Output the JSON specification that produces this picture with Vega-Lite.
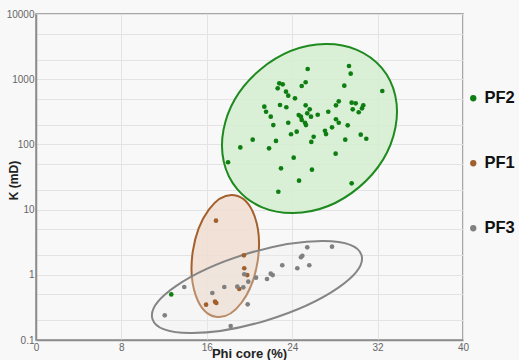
{
  "$schema": "https://vega.github.io/schema/vega-lite/v6.json",
  "width": 427,
  "height": 326,
  "autosize": "none",
  "padding": {"left": 36, "top": 14, "right": 56, "bottom": 20},
  "background": "#f8f8f8",
  "config": {
    "font": "Liberation Sans",
    "view": {"stroke": "#8c8c8c", "strokeWidth": 1.5, "fill": "#f8f8f8"}
  },
  "datasets": {
    "ell": [
      {"g": "PF2", "phi": 25.62, "k": 175},
      {"g": "PF1", "phi": 17.73, "k": 1.94},
      {"g": "PF3", "phi": 20.70, "k": 0.65}
    ],
    "pts": [
      {"g": "PF2", "phi": 25.45, "k": 1433},
      {"g": "PF2", "phi": 29.32, "k": 1594},
      {"g": "PF2", "phi": 29.48, "k": 1215},
      {"g": "PF2", "phi": 22.79, "k": 865},
      {"g": "PF2", "phi": 23.11, "k": 835},
      {"g": "PF2", "phi": 22.64, "k": 725},
      {"g": "PF2", "phi": 25.26, "k": 897},
      {"g": "PF2", "phi": 24.89, "k": 787},
      {"g": "PF2", "phi": 28.88, "k": 795},
      {"g": "PF2", "phi": 23.42, "k": 643},
      {"g": "PF2", "phi": 23.63, "k": 558},
      {"g": "PF2", "phi": 24.26, "k": 509},
      {"g": "PF2", "phi": 21.39, "k": 379},
      {"g": "PF2", "phi": 21.55, "k": 317},
      {"g": "PF2", "phi": 21.99, "k": 266},
      {"g": "PF2", "phi": 22.86, "k": 402},
      {"g": "PF2", "phi": 23.45, "k": 371},
      {"g": "PF2", "phi": 25.26, "k": 398},
      {"g": "PF2", "phi": 25.64, "k": 345},
      {"g": "PF2", "phi": 28.36, "k": 458},
      {"g": "PF2", "phi": 28.10, "k": 398},
      {"g": "PF2", "phi": 29.57, "k": 436},
      {"g": "PF2", "phi": 29.95, "k": 427},
      {"g": "PF2", "phi": 30.66, "k": 398},
      {"g": "PF2", "phi": 30.54, "k": 358},
      {"g": "PF2", "phi": 29.67, "k": 345},
      {"g": "PF2", "phi": 30.23, "k": 311},
      {"g": "PF2", "phi": 27.38, "k": 317},
      {"g": "PF2", "phi": 24.61, "k": 282},
      {"g": "PF2", "phi": 24.82, "k": 266},
      {"g": "PF2", "phi": 25.41, "k": 300},
      {"g": "PF2", "phi": 26.39, "k": 285},
      {"g": "PF2", "phi": 25.76, "k": 266},
      {"g": "PF2", "phi": 24.89, "k": 237},
      {"g": "PF2", "phi": 25.20, "k": 215},
      {"g": "PF2", "phi": 25.29, "k": 198},
      {"g": "PF2", "phi": 22.23, "k": 198},
      {"g": "PF2", "phi": 23.63, "k": 215},
      {"g": "PF2", "phi": 28.10, "k": 243},
      {"g": "PF2", "phi": 28.36, "k": 215},
      {"g": "PF2", "phi": 29.20, "k": 196},
      {"g": "PF2", "phi": 27.73, "k": 183},
      {"g": "PF2", "phi": 27.07, "k": 162},
      {"g": "PF2", "phi": 27.17, "k": 144},
      {"g": "PF2", "phi": 24.42, "k": 157},
      {"g": "PF2", "phi": 23.89, "k": 143},
      {"g": "PF2", "phi": 26.01, "k": 131},
      {"g": "PF2", "phi": 25.79, "k": 109},
      {"g": "PF2", "phi": 28.97, "k": 118},
      {"g": "PF2", "phi": 30.42, "k": 141},
      {"g": "PF2", "phi": 30.94, "k": 122},
      {"g": "PF2", "phi": 20.30, "k": 118},
      {"g": "PF2", "phi": 22.48, "k": 113},
      {"g": "PF2", "phi": 19.14, "k": 90},
      {"g": "PF2", "phi": 21.83, "k": 87},
      {"g": "PF2", "phi": 28.07, "k": 72},
      {"g": "PF2", "phi": 24.14, "k": 62.5},
      {"g": "PF2", "phi": 17.99, "k": 53.2},
      {"g": "PF2", "phi": 22.95, "k": 43},
      {"g": "PF2", "phi": 25.85, "k": 40.9},
      {"g": "PF2", "phi": 24.64, "k": 27.8},
      {"g": "PF2", "phi": 29.57, "k": 25.3},
      {"g": "PF2", "phi": 22.70, "k": 18.8},
      {"g": "PF2", "phi": 32.44, "k": 659},
      {"g": "PF2", "phi": 12.67, "k": 0.50},
      {"g": "PF1", "phi": 16.86, "k": 6.76},
      {"g": "PF1", "phi": 19.48, "k": 1.99},
      {"g": "PF1", "phi": 19.51, "k": 1.26},
      {"g": "PF1", "phi": 19.79, "k": 0.99},
      {"g": "PF1", "phi": 19.04, "k": 0.606},
      {"g": "PF1", "phi": 16.77, "k": 0.387},
      {"g": "PF1", "phi": 16.89, "k": 0.369},
      {"g": "PF1", "phi": 15.93, "k": 0.348},
      {"g": "PF3", "phi": 18.86, "k": 0.657},
      {"g": "PF3", "phi": 19.42, "k": 0.643},
      {"g": "PF3", "phi": 19.51, "k": 1.02},
      {"g": "PF3", "phi": 19.89, "k": 0.784},
      {"g": "PF3", "phi": 20.61, "k": 0.903},
      {"g": "PF3", "phi": 21.64, "k": 0.862},
      {"g": "PF3", "phi": 21.99, "k": 1.04},
      {"g": "PF3", "phi": 22.17, "k": 0.99},
      {"g": "PF3", "phi": 23.07, "k": 1.40},
      {"g": "PF3", "phi": 24.48, "k": 1.26},
      {"g": "PF3", "phi": 25.60, "k": 1.40},
      {"g": "PF3", "phi": 24.82, "k": 1.86},
      {"g": "PF3", "phi": 24.95, "k": 1.96},
      {"g": "PF3", "phi": 25.41, "k": 2.64},
      {"g": "PF3", "phi": 27.73, "k": 2.70},
      {"g": "PF3", "phi": 17.64, "k": 0.650},
      {"g": "PF3", "phi": 16.52, "k": 0.526},
      {"g": "PF3", "phi": 13.89, "k": 0.650},
      {"g": "PF3", "phi": 12.06, "k": 0.239},
      {"g": "PF3", "phi": 18.24, "k": 0.164},
      {"g": "PF3", "phi": 19.83, "k": 0.353}
    ]
  },
  "encoding": {
    "x": {
      "field": "phi", "type": "quantitative",
      "scale": {"domain": [0, 40], "nice": false},
      "axis": {
        "title": "Phi core (%)",
        "values": [0, 8, 16, 24, 32, 40],
        "ticks": false, "labelFlush": false, "labelOverlap": false,
        "domainColor": "#8c8c8c", "domainWidth": 1.5,
        "gridColor": "#e3e3e3",
        "labelColor": "#666666", "labelFontSize": 10, "labelPadding": 2,
        "titleFontSize": 13, "titleFontWeight": "bold", "titleColor": "#222222",
        "titleX": 213, "titleY": 13, "titleAlign": "center", "titleBaseline": "middle"
      }
    },
    "y": {
      "field": "k", "type": "quantitative",
      "scale": {"type": "log", "domain": [0.1, 10000], "nice": false},
      "axis": {
        "title": "K (mD)",
        "values": [0.1, 0.2, 0.5, 1, 2, 5, 10, 20, 50, 100, 200, 500, 1000, 2000, 5000, 10000],
        "format": "~g",
        "labelExpr": "indexof(['0.1','1','10','100','1000','10000'], datum.label) >= 0 ? datum.label : ''",
        "ticks": false, "labelFlush": false, "labelOverlap": false,
        "domainColor": "#8c8c8c", "domainWidth": 1.5,
        "gridColor": "#e3e3e3",
        "labelColor": "#666666", "labelFontSize": 10, "labelPadding": 2,
        "titleFontSize": 12, "titleFontWeight": "bold", "titleColor": "#222222",
        "titleX": -23, "titleY": 166, "titleAngle": 270, "titleAlign": "center", "titleBaseline": "middle"
      }
    }
  },
  "layer": [
    {
      "data": {"name": "ell"},
      "transform": [{"filter": "datum.g == 'PF1'"}],
      "mark": {
        "type": "point", "filled": true, "size": 4, "angle": 278.6,
        "shape": "M 61.5 0 C 61.5 18.12 33.97 32.8 0 32.8 C -33.97 32.8 -61.5 18.12 -61.5 0 C -61.5 -18.12 -33.97 -32.8 0 -32.8 C 33.97 -32.8 61.5 -18.12 61.5 0 Z",
        "fill": "#f0ddd0", "fillOpacity": 0.85, "stroke": "#a3602c", "strokeWidth": 2, "opacity": 1
      }
    },
    {
      "data": {"name": "ell"},
      "transform": [{"filter": "datum.g == 'PF3'"}],
      "mark": {
        "type": "point", "filled": true, "size": 4, "angle": 343,
        "shape": "M 109.3 0 C 109.3 19.16 60.37 34.7 0 34.7 C -60.37 34.7 -109.3 19.16 -109.3 0 C -109.3 -19.16 -60.37 -34.7 0 -34.7 C 60.37 -34.7 109.3 -19.16 109.3 0 Z",
        "fill": "#eeeeee", "fillOpacity": 0.3, "stroke": "#858585", "strokeWidth": 2, "opacity": 1
      }
    },
    {
      "data": {"name": "ell"},
      "transform": [{"filter": "datum.g == 'PF2'"}],
      "mark": {
        "type": "point", "filled": true, "size": 4, "angle": 320,
        "shape": "M 94.3 0 C 94.3 42.42 52.08 76.8 0 76.8 C -52.08 76.8 -94.3 42.42 -94.3 0 C -94.3 -42.42 -52.08 -76.8 0 -76.8 C 52.08 -76.8 94.3 -42.42 94.3 0 Z",
        "fill": "#d5eed0", "fillOpacity": 0.85, "stroke": "#1f8a1f", "strokeWidth": 2, "opacity": 1
      }
    },
    {
      "data": {"name": "pts"},
      "mark": {"type": "circle", "size": 22, "opacity": 1},
      "encoding": {
        "color": {
          "field": "g", "type": "nominal",
          "scale": {"domain": ["PF2", "PF1", "PF3"], "range": ["#0e7d12", "#a0602e", "#808080"]},
          "legend": {
            "title": null, "orient": "none", "legendX": 429, "legendY": 76,
            "symbolType": "circle", "symbolSize": 40, "labelFontSize": 16.5, "labelFontWeight": "bold",
            "labelColor": "#111111", "rowPadding": 48, "labelOffset": 3, "padding": 0
          }
        }
      }
    }
  ]
}
